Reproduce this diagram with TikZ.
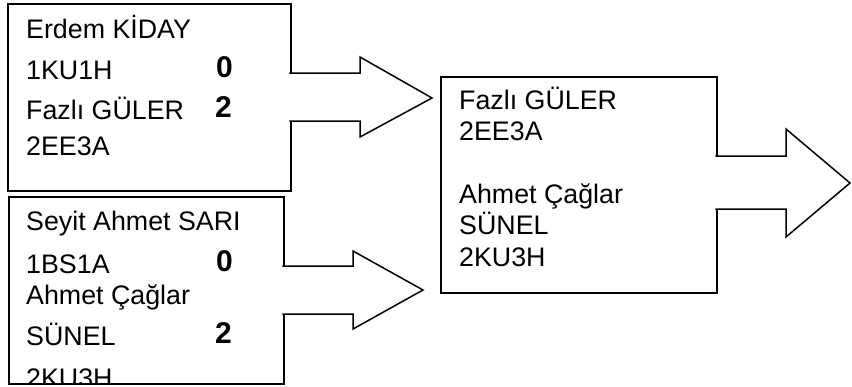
\documentclass[tikz,border=0pt]{standalone}
\usepackage{fontspec}
\setmainfont{Liberation Sans}[BoldFont={Liberation Sans Bold}]
\newfontfamily\numfont{Liberation Sans Bold}
\begin{document}
\begin{tikzpicture}[x=1pt,y=-1pt,
  box/.style={draw, line width=1.5pt, fill=white, inner sep=0pt, anchor=north west},
  arrowline/.style={draw, line width=1.5pt, line join=miter},
  txt/.style={anchor=base west, inner sep=0pt, font=\fontsize{26.8}{30}\selectfont},
  num/.style={anchor=base west, inner sep=0pt, font=\numfont\fontsize{30}{34}\selectfont}]
\useasboundingbox (0,0) rectangle (852,386);
% boxes
\node[box, minimum width=283pt, minimum height=187pt] (b1) at (7,3) {};
\node[box, minimum width=275pt, minimum height=187pt] (b2) at (8,196) {};
\node[box, minimum width=276pt, minimum height=216pt] (b3) at (440,76) {};
% block arrows
\fill[white] (287,73) -- (360,73) -- (360,57) -- (432,98) -- (360,137) -- (360,121) -- (287,121) -- cycle;
\draw[arrowline] (289.3,73) -- (360,73) -- (360,57) -- (432,98) -- (360,137) -- (360,121) -- (289.3,121);
\fill[white] (280,266) -- (353,266) -- (353,251) -- (423,290) -- (353,329) -- (353,314) -- (280,314) -- cycle;
\draw[arrowline] (282.3,266) -- (353,266) -- (353,251) -- (423,290) -- (353,329) -- (353,314) -- (282.3,314);
\fill[white] (713,156) -- (786,156) -- (786,129) -- (850,183) -- (786,237) -- (786,209) -- (713,209) -- cycle;
\draw[arrowline] (715.3,156) -- (786,156) -- (786,129) -- (850,183) -- (786,237) -- (786,209) -- (715.3,209);
% box 1 text
\node[txt] (t11) at (26,38) {Erdem KİDAY};
\node[txt] (t12) at (26,79) {1KU1H};
\node[num] (n11) at (216,77) {0};
\node[txt] (t13) at (26,119) {Fazlı GÜLER};
\node[num] (n12) at (215,117) {2};
\node[txt] (t14) at (26,155) {2EE3A};
% box 2 text
\node[txt] (t21) at (26,230) {Seyit Ahmet SARI};
\node[txt] (t22) at (26,273) {1BS1A};
\node[num] (n21) at (216,271) {0};
\node[txt] (t23) at (26,304) {Ahmet Çağlar};
\node[txt] (t24) at (26,345) {SÜNEL};
\node[num] (n22) at (215,343) {2};
\begin{scope}
\clip (8.8,196.8) rectangle (282.2,382.2);
\node[txt] (t25) at (26,387) {2KU3H};
\end{scope}
% box 3 text
\node[txt] (t31) at (459,109) {Fazlı GÜLER};
\node[txt] (t32) at (459,140.5) {2EE3A};
\node[txt] (t33) at (459,203.5) {Ahmet Çağlar};
\node[txt] (t34) at (459,234.5) {SÜNEL};
\node[txt] (t35) at (459,266) {2KU3H};
\end{tikzpicture}
\end{document}
